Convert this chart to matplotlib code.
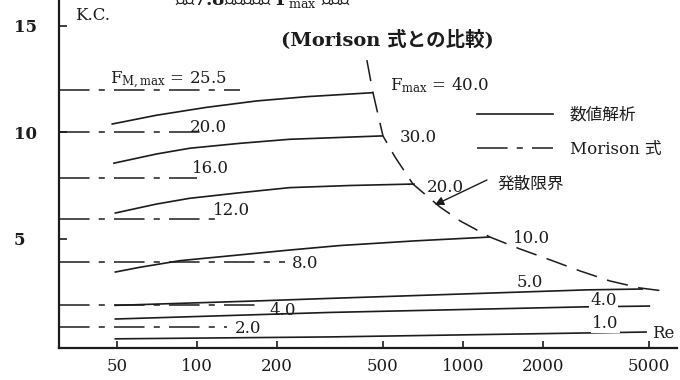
import matplotlib
matplotlib.use("Agg")
import matplotlib.pyplot as plt
from matplotlib.lines import Line2D

plt.rcParams["font.family"] = ["DejaVu Serif", "Noto Sans CJK JP"]
plt.rcParams["mathtext.fontset"] = "dejavuserif"

INK = "#1c1c1c"

# ---------------- data ----------------
# Numerical analysis: K.C. number against Re for each F_max level
num_labels = ["40.0", "30.0", "20.0", "10.0", "5.0", "4.0", "1.0"]
re_f40 = [47.7, 70.5, 108.7, 167.6, 258, 460]
kc_f40 = [10.39, 10.81, 11.18, 11.48, 11.68, 11.87]
re_f30 = [48.4, 70.5, 94, 145, 223, 501]
kc_f30 = [8.55, 8.99, 9.26, 9.49, 9.68, 9.84]
re_f20 = [49, 70.5, 94, 145, 223, 376, 659]
kc_f20 = [6.21, 6.64, 6.91, 7.17, 7.41, 7.51, 7.58]
re_f10 = [49, 61, 86.3, 223, 344, 659, 1262]
kc_f10 = [3.44, 3.67, 3.98, 4.48, 4.69, 4.91, 5.09]
re_f5 = [49, 168, 316, 2927, 4750]
kc_f5 = [1.88, 2.09, 2.21, 2.61, 2.65]
re_f4 = [49, 316, 2825, 5050]
kc_f4 = [1.24, 1.55, 1.81, 1.85]
re_f1 = [49, 316, 4910]
kc_f1 = [0.31, 0.40, 0.63]

# Morison formula: constant K.C. for each F_M,max
morison_labels = ["25.5", "20.0", "16.0", "12.0", "8.0", "4.0", "2.0"]
morison_kc = [12.0, 10.0, 7.85, 5.94, 3.92, 1.90, 0.87]
morison_re_end = [145, 103, 100, 120, 214, 168, 130]

# Divergence limit of the numerical solution
div_re = [435, 458, 500, 555, 648, 819, 974, 1262, 1637, 2122, 2750, 3560, 4620, 5650]
div_kc = [13.40, 11.90, 9.84, 8.85, 7.58, 6.50, 5.85, 5.09, 4.53, 4.02, 3.50, 3.03, 2.70, 2.56]

x_ticks = [50, 100, 200, 500, 1000, 2000, 5000]
x_tick_labels = ["50", "100", "200", "500", "1000", "2000", "5000"]
y_ticks = [5, 10, 15]
y_tick_labels = ["5", "10", "15"]

# ---------------- layout ----------------
RE_MIN, RE_MAX = 30.3, 6370
KC_MIN, KC_MAX = -0.12, 16.22

num_series = [(re_f40, kc_f40), (re_f30, kc_f30), (re_f20, kc_f20), (re_f10, kc_f10),
              (re_f5, kc_f5), (re_f4, kc_f4), (re_f1, kc_f1)]
# label anchors (left, baseline) in data coordinates
num_label_pos = [(531, 12.0), (579, 9.55), (732, 7.21), (1541, 4.81),
                 (1596, 2.75), (3000, 1.90), (3055, 0.82)]
morison_label_pos = [(47, 12.28), (94, 10.02), (95.7, 8.10), (115, 6.13),
                     (227, 3.64), (188, 1.43), (139, 0.59)]

SOLID_LW = 1.2
DASHDOT = (0, (20, 6, 4, 6))
DASHED = (0, (14, 7))
FS = 12

fig = plt.figure(figsize=(6.8, 3.8), dpi=100)
fig.patch.set_facecolor("white")
ax = fig.add_axes([59 / 680, 32 / 380, (677 - 59) / 680, 348 / 380])
ax.set_xscale("log")
ax.set_xlim(RE_MIN, RE_MAX)
ax.set_ylim(KC_MIN, KC_MAX)

for side in ("top", "right"):
    ax.spines[side].set_visible(False)
for side in ("left", "bottom"):
    ax.spines[side].set_linewidth(1.6)
    ax.spines[side].set_color(INK)

ax.xaxis.set_minor_locator(matplotlib.ticker.NullLocator())
ax.set_xticks(x_ticks, x_tick_labels)
ax.set_yticks(y_ticks, y_tick_labels)
ax.tick_params(axis="x", direction="in", length=5, width=1.2, color=INK,
               labelsize=FS, pad=7, labelcolor=INK)
ax.tick_params(axis="y", direction="in", length=6, width=1.2, color=INK,
               labelsize=FS, pad=32.4, labelcolor=INK)
for lab in ax.get_yticklabels():
    lab.set_horizontalalignment("left")
    lab.set_fontweight("bold")

# numerical-analysis curves
for (re, kc) in num_series:
    ax.plot(re, kc, color=INK, lw=SOLID_LW, solid_capstyle="butt", zorder=3)

# Morison-formula lines, drawn from the axis
for kc, re_end in zip(morison_kc, morison_re_end):
    ax.plot([RE_MIN, re_end], [kc, kc], color=INK, lw=1.1, linestyle=DASHDOT, zorder=3)

# divergence limit
ax.plot(div_re, div_kc, color=INK, lw=1.1, linestyle=DASHED, zorder=3)

# curve labels
for i, (lab, (x, y)) in enumerate(zip(num_labels, num_label_pos)):
    text = r"F$_{\rm max}$ = " + lab if i == 0 else lab
    box = dict(facecolor="white", edgecolor="none", pad=1.0) if lab in ("4.0", "1.0") else None
    ax.text(x, y, text, fontsize=FS, color=INK, ha="left", va="baseline",
            bbox=box, zorder=5)

for i, (lab, (x, y)) in enumerate(zip(morison_labels, morison_label_pos)):
    text = r"F$_{\rm M,max}$ = " + lab if i == 0 else lab
    ax.text(x, y, text, fontsize=FS, color=INK, ha="left", va="baseline", zorder=5)

ax.annotate("", xy=(783, 6.60), xytext=(1230, 7.77),
            arrowprops=dict(arrowstyle="-|>", color=INK, lw=1.0,
                            mutation_scale=13, shrinkA=0, shrinkB=0))
ax.text(1342, 7.58, "発散限界", fontsize=FS, color=INK, ha="left", va="center")

ax.text(5130, 0.35, "Re", fontsize=FS, color=INK, ha="left", va="baseline")
ax.text(34.7, 15.49, "K.C.", fontsize=FS, color=INK, ha="left", va="center")

# legend
handles = [Line2D([], [], color=INK, lw=SOLID_LW),
           Line2D([], [], color=INK, lw=1.1, linestyle=DASHDOT)]
leg = ax.legend(handles, ["数値解析", "Morison 式"], loc="upper left",
                bbox_to_anchor=(477 / 680, 1 - 107 / 380), bbox_transform=fig.transFigure,
                frameon=False, fontsize=FS, handlelength=4.56, handletextpad=1.0,
                labelspacing=1.0, borderpad=0, borderaxespad=0)
for t in leg.get_texts():
    t.set_color(INK)

# headings
fig.text(387 / 680, 1 - 40 / 380, "(Morison 式との比較)", fontsize=14,
         fontweight="bold", color=INK, ha="center", va="center")
fig.text(175 / 680, 1 - 5 / 380, "図－7.8　最大波力 F$_{\\rm max}$ の分布", fontsize=13,
         fontweight="bold", color=INK, ha="left", va="baseline")

fig.savefig("out.png", dpi=100, facecolor="white")
